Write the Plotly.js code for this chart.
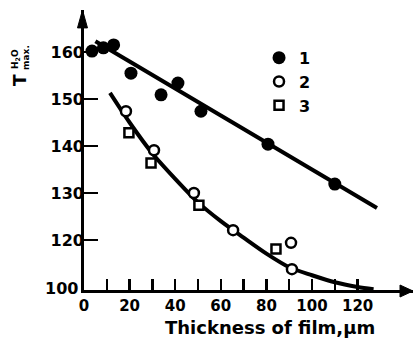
<!DOCTYPE html>
<html>
<head>
<meta charset="utf-8">
<script src="https://cdn.plot.ly/plotly-3.0.1.min.js"></script>
<style>html,body{margin:0;padding:0;background:#fff;}#chart{width:414px;height:348px;}</style>
</head>
<body>
<div id="chart"></div>
<script>
// Series 1 (filled circles)
var s1x = [3.5, 8.5, 13, 20.6, 33.8, 41.2, 51.3, 80.7, 110];
var s1y = [160.2, 160.9, 161.5, 155.5, 150.9, 153.4, 147.4, 140.4, 131.9];
// Series 2 (open circles)
var s2x = [18.4, 30.7, 48.2, 65.4, 90.8, 91.2];
var s2y = [147.4, 139.1, 130, 122.1, 119.4, 113.8];
// Series 3 (open squares)
var s3x = [19.7, 29.4, 50.4, 84.2];
var s3y = [142.8, 136.4, 127.4, 118.1];
// Fitted line for series 1
var fit1x = [5, 128.5];
var fit1y = [162.3, 126.8];
// Fitted curve for series 2 and 3
var fit2x = [11.4, 20, 30, 40, 50, 60, 70, 80, 90, 100, 110, 120, 127];
var fit2y = [151.3, 145, 138.4, 133, 128, 124, 120.5, 117.1, 114.2, 112.5, 111.0, 110.0, 109.5];
// Legend names
var names = ['1', '2', '3'];
// Tick labels
var xTickVals = [0, 10, 20, 30, 40, 50, 60, 70, 80, 90, 100, 110, 120];
var xTickText = ['0', ' ', '20', ' ', '40', ' ', '60', ' ', '80', ' ', '100', ' ', '120'];
var yTickVals = [120, 130, 140, 150, 160];
var yTickText = ['120', '130', '140', '150', '160'];
var originLabel = '100';
var xTitle = 'Thickness of film,\u03bcm';

var FONT = 'DejaVu Sans, sans-serif';
var YRANGE = [109.36, 168.94];

var traces = [
  {x: fit1x, y: fit1y, mode: 'lines', line: {color: '#000', width: 4}, showlegend: false, hoverinfo: 'skip'},
  {x: fit2x, y: fit2y, mode: 'lines', line: {color: '#000', width: 4, shape: 'spline', smoothing: 0.8}, showlegend: false, hoverinfo: 'skip'},
  {x: s1x, y: s1y, mode: 'markers', name: names[0],
   marker: {symbol: 'circle', size: 13, color: '#000', line: {width: 0}}},
  {x: s2x, y: s2y, mode: 'markers', name: names[1],
   marker: {symbol: 'circle', size: 10, color: '#fff', line: {color: '#000', width: 2.5}}},
  {x: s3x, y: s3y, mode: 'markers', name: names[2],
   marker: {symbol: 'square', size: 9, color: '#fff', line: {color: '#000', width: 2.5}}},
  // empty helper trace so the label-only axis is drawn
  {x: [], y: [], yaxis: 'y2', mode: 'lines', showlegend: false, hoverinfo: 'skip'}
];

var layout = {
  width: 414, height: 348,
  margin: {l: 84, r: 1, t: 10, b: 58},
  paper_bgcolor: '#fff', plot_bgcolor: '#fff',
  font: {family: FONT, color: '#000', size: 15, weight: 'bold'},
  showlegend: true,
  legend: {x: 0.532, y: 0.89, xanchor: 'left', yanchor: 'top', bgcolor: 'rgba(0,0,0,0)',
           font: {family: FONT, size: 16, color: '#000', weight: 'bold'}, tracegroupgap: 0},
  xaxis: {range: [0, 144.3], domain: [0, 1], showgrid: false, zeroline: false, showline: true, linecolor: '#000', linewidth: 3,
          ticks: 'inside', ticklen: 11, tickwidth: 2.5, tickcolor: '#000',
          tickmode: 'array', tickvals: xTickVals, ticktext: xTickText,
          tickfont: {family: FONT, size: 15, color: '#000', weight: 'bold'}},
  yaxis: {range: YRANGE, showgrid: false, zeroline: false, showline: true, linecolor: '#000', linewidth: 3,
          ticks: 'inside', ticklen: 14, tickwidth: 2.5, tickcolor: '#000',
          tickmode: 'array', tickvals: yTickVals, showticklabels: false},
  yaxis2: {range: YRANGE, overlaying: 'y', anchor: 'free', position: 0, side: 'left',
           showgrid: false, zeroline: false, showline: false, ticks: '',
           tickmode: 'array', tickvals: yTickVals, ticktext: yTickText,
           tickfont: {family: FONT, size: 16, color: '#000', weight: 'bold'}},
  shapes: [
    {type: 'path', xref: 'paper', yref: 'paper', path: 'M -0.0046 1.0 L -0.0198 0.936 L 0.0106 0.936 Z',
     fillcolor: '#000', line: {color: '#000', width: 1}},
    {type: 'path', xref: 'paper', yref: 'paper', path: 'M 1.0 -0.0036 L 0.9605 0.0178 L 0.9605 -0.025 Z',
     fillcolor: '#000', line: {color: '#000', width: 1}}
  ],
  annotations: [
    {xref: 'paper', yref: 'paper', x: -0.012, y: 0.0036, xanchor: 'right', yanchor: 'middle', showarrow: false,
     text: originLabel, font: {family: FONT, size: 16, color: '#000', weight: 'bold'}},
    {xref: 'paper', yref: 'paper', x: (270 - 84) / 329, y: (290 - 327) / 280, xanchor: 'center', yanchor: 'middle', showarrow: false,
     text: xTitle, font: {family: FONT, size: 18, color: '#000', weight: 'bold'}},
    {xref: 'paper', yref: 'paper', x: (20 - 84) / 329, y: 0.75, xanchor: 'center', yanchor: 'middle', showarrow: false, textangle: -90,
     text: 'T', font: {family: FONT, size: 17, color: '#000', weight: 'bold'}},
    {xref: 'paper', yref: 'paper', x: (15 - 84) / 329, y: 0.825, xanchor: 'center', yanchor: 'middle', showarrow: false, textangle: -90,
     text: 'H<sub>2</sub>O', font: {family: FONT, size: 9, color: '#000', weight: 'bold'}},
    {xref: 'paper', yref: 'paper', x: (26 - 84) / 329, y: 0.829, xanchor: 'center', yanchor: 'middle', showarrow: false, textangle: -90,
     text: 'max.', font: {family: FONT, size: 9, color: '#000', weight: 'bold'}}
  ]
};

Plotly.newPlot('chart', traces, layout, {displayModeBar: false, staticPlot: true});
</script>
</body>
</html>
